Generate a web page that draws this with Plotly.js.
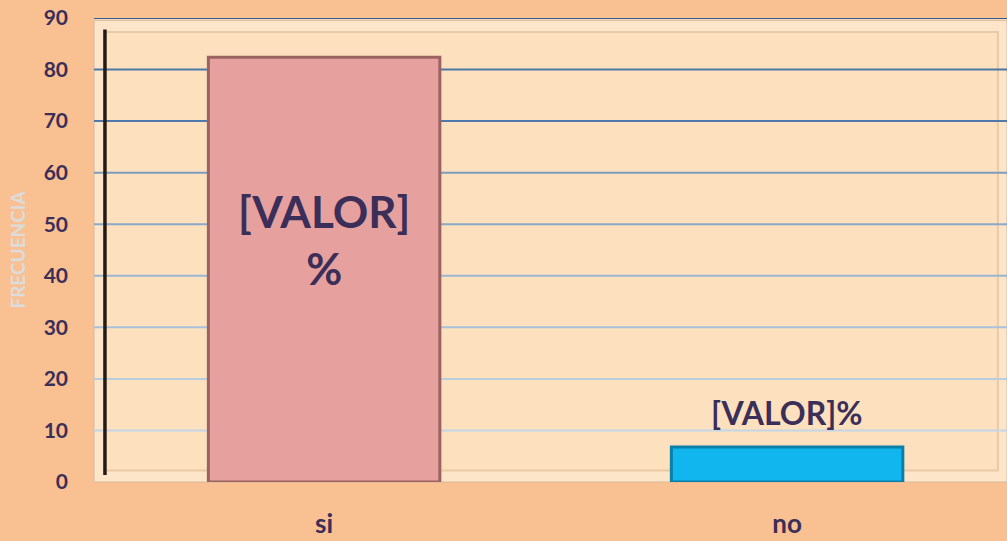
<!DOCTYPE html>
<html>
<head>
<meta charset="utf-8">
<script src="https://cdn.plot.ly/plotly-3.0.1.min.js"></script>
<style>html,body{margin:0;padding:0;background:#F9C192;}</style>
</head>
<body>
<div id="chart" style="width:1007px;height:541px;"></div>
<script>
const categories = ["si", "no"];
const values = [82.4, 6.8];
const barLabels = ["[VALOR]<br>%", "[VALOR]%"];
const yTicks = [0, 10, 20, 30, 40, 50, 60, 70, 80, 90];
const gridColors = ["#C9D9E8", "#C4D6E6", "#B8CDE0", "#A9C1DA", "#9AB5D2", "#8AA8CA", "#7D9BBE", "#4E79AA", "#4A77A8", "#2F5C94"];

const fam = "Lato, 'Open Sans', sans-serif";
const ink = "#3B2E58";

const traces = [
  {
    type: "bar",
    x: [categories[0]],
    y: [values[0]],
    width: 0.5,
    marker: {color: "#E6A19F", line: {color: "#9A6361", width: 3}},
    hoverinfo: "none"
  },
  {
    type: "bar",
    x: [categories[1]],
    y: [values[1]],
    width: 0.5,
    marker: {color: "#12B6EE", line: {color: "#0A7FA8", width: 3}},
    hoverinfo: "none"
  }
];

const annotations = [
  {x: categories[0], y: values[0] / 2, xref: "x", yref: "y", yshift: 30,
   text: barLabels[0], showarrow: false,
   font: {family: fam, size: 44, color: ink, weight: "bold", lineposition: "none"}, align: "center"},
  {x: categories[1], y: values[1], xref: "x", yref: "y", yshift: 34,
   text: barLabels[1], showarrow: false,
   font: {family: fam, size: 32, color: ink, weight: "bold"}}
];

const shapes = yTicks.filter(v => v > 0).map(v => ({
  type: "line", xref: "paper", yref: "y",
  x0: 0, x1: 1, y0: v, y1: v,
  line: {color: gridColors[yTicks.indexOf(v)], width: 2},
  layer: "below"
}));
shapes.unshift(
  {type: "rect", xref: "paper", yref: "paper", x0: 0, x1: 1.0, y0: 0, y1: 0.995,
   fillcolor: "#FCE5C8", line: {color: "#D9B89A", width: 1}, layer: "below"},
  {type: "rect", xref: "paper", yref: "paper", x0: 0.012, x1: 0.99, y0: 0.025, y1: 0.97,
   fillcolor: "#FDE1BF", line: {color: "#E9C9A6", width: 2}, layer: "below"}
);
shapes.push({type: "line", xref: "paper", yref: "paper", x0: 0.012, x1: 0.012, y0: 0.015, y1: 0.975,
  line: {color: "#231A14", width: 3.5}, layer: "below"});

const layout = {
  width: 1007, height: 541,
  margin: {l: 94, r: 0, t: 18, b: 59},
  paper_bgcolor: "#F9C192",
  plot_bgcolor: "#FDE1BF",
  showlegend: false,
  barmode: "group",
  annotations: annotations,
  xaxis: {
    type: "category",
    range: [-0.497, 1.475],
    showgrid: false, zeroline: false, showline: false,
    ticks: "", ticklabelstandoff: 24,
    tickfont: {family: fam, size: 26, color: ink, weight: "bold"}
  },
  yaxis: {
    range: [0, 90],
    tickvals: yTicks,
    showgrid: false, zeroline: false, showline: false,
    ticks: "", ticklabelstandoff: 25,
    tickfont: {family: fam, size: 21, color: ink, weight: "bold"},
    title: {text: "FRECUENCIA", standoff: 12,
      font: {family: fam, size: 19, color: "#DCDCDC", weight: "bold"}}
  },
  shapes: shapes
};

Plotly.newPlot("chart", traces, layout, {displayModeBar: false, staticPlot: true});
</script>
</body>
</html>
